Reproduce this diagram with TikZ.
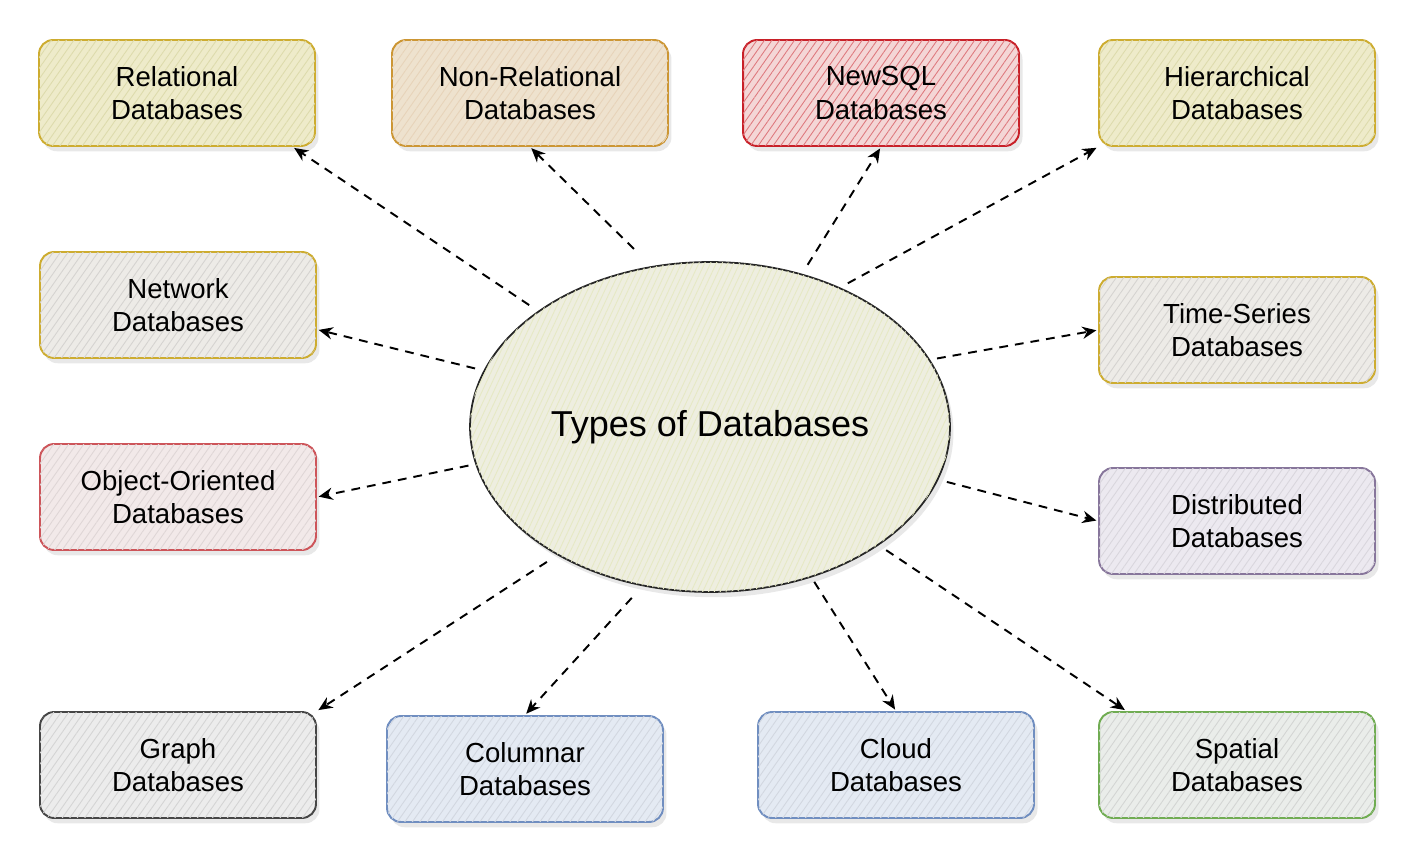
\documentclass[tikz,border=0pt]{standalone}
\usepackage{fontspec}
\setmainfont{Liberation Sans}
\usetikzlibrary{arrows.meta, shapes.geometric, patterns.meta, shadows}
\usepackage{xcolor}
\definecolor{goldline}{RGB}{205,172,48}
\definecolor{orangeline}{RGB}{204,150,52}
\definecolor{redline}{RGB}{200,32,40}
\definecolor{roseline}{RGB}{205,85,90}
\definecolor{plumline}{RGB}{135,118,155}
\definecolor{darkline}{RGB}{70,70,70}
\definecolor{blueline}{RGB}{112,142,192}
\definecolor{greenline}{RGB}{112,172,82}
\definecolor{khakifill}{RGB}{238,235,202}
\definecolor{tanfill}{RGB}{238,226,206}
\definecolor{pinkfill}{RGB}{244,214,214}
\definecolor{greyfill}{RGB}{237,235,231}
\definecolor{rosefill}{RGB}{242,233,233}
\definecolor{lilacfill}{RGB}{236,233,240}
\definecolor{ashfill}{RGB}{236,236,236}
\definecolor{skyfill}{RGB}{228,234,243}
\definecolor{mintfill}{RGB}{234,237,234}
\definecolor{hubfill}{RGB}{238,238,224}
\definecolor{hubhatch}{RGB}{230,233,196}

\begin{document}
\begin{tikzpicture}[x=0.02cm, y=-0.02cm,
  dbbox/.style n args={3}{draw=#1, fill=#2, line width=1.1pt, rounded corners=8pt,
    minimum width=5.52cm, minimum height=2.12cm, align=center,
    font=\fontsize{15.7}{19}\selectfont,
    drop shadow={opacity=0.18, shadow xshift=2pt, shadow yshift=-3pt},
    postaction={pattern={Lines[angle=55, distance=3.5pt, line width=0.5pt]}, pattern color=#3}},
  hub/.style={ellipse, draw=black!85, fill=hubfill, line width=1pt, inner sep=0pt,
    minimum width=9.6cm, minimum height=6.6cm, font=\fontsize{20.5}{24}\selectfont,
    drop shadow={opacity=0.18, shadow xshift=2pt, shadow yshift=-3pt},
    postaction={pattern={Lines[angle=65, distance=3pt, line width=0.5pt]}, pattern color=hubhatch}},
  link/.style={-{Stealth[length=8pt, width=7pt]}, line width=1.1pt, dash pattern=on 5pt off 4pt}]
  \useasboundingbox (0,0) rectangle (1416,864);

  % centre
  \node[hub] (hub) at (710,427) {Types of Databases};

  % top row
  \node[dbbox={goldline}{khakifill}{khakifill!85!olive}] (rel) at (177,93) {Relational\\Databases};
  \node[dbbox={orangeline}{tanfill}{tanfill!85!brown}] (nonrel) at (530,93) {Non-Relational\\Databases};
  \node[dbbox={redline}{pinkfill}{redline!60}] (newsql) at (881,93) {NewSQL\\Databases};
  \node[dbbox={goldline}{khakifill}{khakifill!85!olive}] (hier) at (1237,93) {Hierarchical\\Databases};

  % sides
  \node[dbbox={goldline}{greyfill}{greyfill!90!black}] (network) at (178,305) {Network\\Databases};
  \node[dbbox={goldline}{greyfill}{greyfill!90!black}] (timeser) at (1237,330) {Time-Series\\Databases};
  \node[dbbox={roseline}{rosefill}{rosefill!92!black}] (object) at (178,497) {Object-Oriented\\Databases};
  \node[dbbox={plumline}{lilacfill}{lilacfill!92!black}] (distrib) at (1237,521) {Distributed\\Databases};

  % bottom row
  \node[dbbox={darkline}{ashfill}{ashfill!90!black}] (graph) at (178,765) {Graph\\Databases};
  \node[dbbox={blueline}{skyfill}{skyfill!92!black}] (columnar) at (525,769) {Columnar\\Databases};
  \node[dbbox={blueline}{skyfill}{skyfill!92!black}] (cloud) at (896,765) {Cloud\\Databases};
  \node[dbbox={greenline}{mintfill}{mintfill!90!black}] (spatial) at (1237,765) {Spatial\\Databases};

  % arrows out of the hub
  \foreach \ang/\gap/\tgt in {146/6pt/rel.-25, 110.5/14pt/nonrel.south, 59/6pt/newsql.south,
      47.4/5pt/hier.south west, 166.4/5pt/network.-10, 17.4/4pt/timeser.west,
      189/4pt/object.east, -13.7/5pt/distrib.west, 220/7pt/graph.north east,
      247.6/9pt/columnar.north, -56.8/3pt/cloud.north, -35.1/5pt/spatial.154} {
    \draw[link, shorten <=\gap, shorten >=1pt] (hub.\ang) -- (\tgt);
  }
\end{tikzpicture}
\end{document}
